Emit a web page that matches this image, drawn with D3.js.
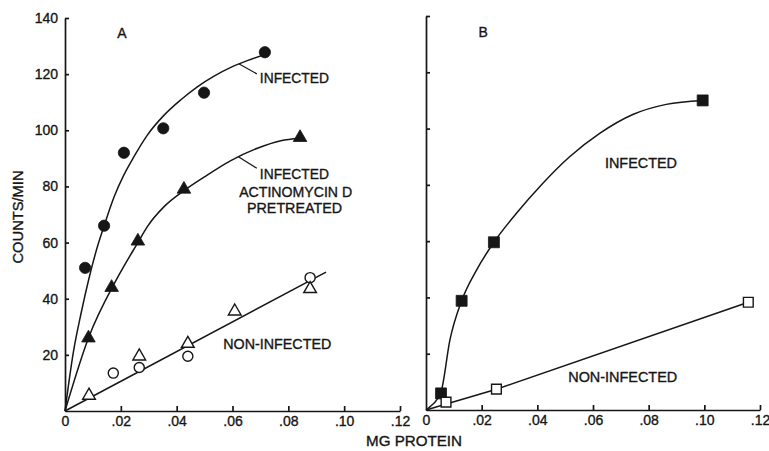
<!DOCTYPE html>
<html>
<head>
<meta charset="utf-8">
<script src="https://cdn.jsdelivr.net/npm/d3@7"></script>
<style>
body { margin: 0; background: #fff; }
svg text { font-family: "Liberation Sans", Arial, sans-serif; fill: #161616; stroke: #161616; stroke-width: 0.35px; }
</style>
</head>
<body>
<div id="chart"></div>
<script>
// axis ticks (both panels share them)
var xTicks = [0, .02, .04, .06, .08, .10, .12];
var xTickLabels = ["0", ".02", ".04", ".06", ".08", ".10", ".12"];
var yTicks = [20, 40, 60, 80, 100, 120, 140];
var yTickLabels = ["20", "40", "60", "80", "100", "120", "140"];

// panel A - measured points (mg protein, counts/min)
var infectedA = [[.0072, 51], [.014, 66], [.0211, 92], [.0352, 100.7], [.0498, 113.4], [.0716, 127.8]];
var actinoA = [[.0084, 26], [.0167, 44], [.0261, 60.5], [.0426, 79], [.0842, 97.4]];
var nonInfCirclesA = [[.0173, 13.5], [.0266, 15.5], [.044, 19.5], [.0878, 47.5]];
var nonInfTrianglesA = [[.0086, 5.5], [.0266, 19.5], [.044, 24], [.0608, 35.5], [.0878, 43.5]];

// panel A - hand drawn curves
var infectedCurveA = [[0, 0], [.003, 21], [.0058, 35], [.0086, 47.3], [.0116, 58.5], [.014, 65.9],
    [.0176, 76.3], [.0211, 84.1], [.0247, 90.6], [.0295, 98.3], [.0355, 105.4], [.0414, 110.8],
    [.0474, 115.5], [.0534, 119.3], [.0594, 122.4], [.0653, 124.8], [.0716, 127]];
var actinoCurveA = [[0, 0], [.0084, 26], [.0187, 47.3], [.0261, 60], [.0295, 65.7], [.0355, 72.8],
    [.0426, 78.5], [.0498, 83.3], [.0594, 89.2], [.0689, 93.6], [.0773, 96.3], [.0842, 97.2]];
var nonInfLineA = [[0, 0], [.0935, 49.5]];

// panel B
var infectedB = [[.0054, 5.9], [.0128, 38.8], [.0244, 59.6], [.0994, 110]];
var nonInfB = [[.0072, 2.8], [.0253, 7.4], [.1158, 38.3]];
var infectedCurveB = [[0, 0], [.0015, 1.2], [.0054, 6.5], [.0086, 24.9], [.0128, 38.8], [.0182, 49.8],
    [.0244, 59.6], [.0325, 69.9], [.042, 80.6], [.0516, 90], [.0624, 98.3], [.0743, 105], [.0863, 108.6], [.0994, 110]];
var nonInfLineB = [[0, 0], [.0253, 7.4], [.1158, 38.3]];

var width = 769, height = 451;

var svg = d3.select("#chart").append("svg")
    .attr("width", width)
    .attr("height", height);

var makePanel = function(x0, x1, yBottom, yTop, showYLabels) {
    var x = d3.scaleLinear().domain([0, .12]).range([x0, x1]);
    var y = d3.scaleLinear().domain([0, 140]).range([yBottom, yTop]);

    var xAxis = svg.append("g")
        .attr("transform", "translate(0," + yBottom + ")")
        .call(d3.axisBottom(x)
            .tickValues(xTicks)
            .tickFormat(function(d, i) { return xTickLabels[i]; })
            .tickSizeInner(-5)
            .tickSizeOuter(0)
            .tickPadding(5));

    var yAxis = svg.append("g")
        .attr("transform", "translate(" + x0 + ",0)")
        .call(d3.axisLeft(y)
            .tickValues(yTicks)
            .tickFormat(function(d, i) { return showYLabels ? yTickLabels[i] : ""; })
            .tickSizeInner(-4)
            .tickSizeOuter(0)
            .tickPadding(7));

    [xAxis, yAxis].forEach(function(a) {
        a.selectAll("path, line").attr("stroke", "#161616").attr("stroke-width", 1.7);
        a.selectAll("text").attr("font-size", 14).attr("fill", "#161616")
            .style("font-family", "'Liberation Sans', Arial, sans-serif");
    });
    // origin tick is drawn by the y axis
    xAxis.selectAll(".tick").filter(function(d) { return d === 0; }).select("line").remove();

    return {x: x, y: y};
};

var drawLine = function(p, pts, curve) {
    svg.append("path")
        .datum(pts)
        .attr("fill", "none")
        .attr("stroke", "#161616")
        .attr("stroke-width", 1.5)
        .attr("d", d3.line()
            .x(function(d) { return p.x(d[0]); })
            .y(function(d) { return p.y(d[1]); })
            .curve(curve));
};

var drawMarks = function(p, pts, type, size, filled) {
    svg.append("g").selectAll("path")
        .data(pts)
        .enter().append("path")
        .attr("transform", function(d) { return "translate(" + p.x(d[0]) + "," + p.y(d[1]) + ")"; })
        .attr("d", d3.symbol().type(type).size(size))
        .attr("fill", filled ? "#161616" : "#fff")
        .attr("stroke", "#161616")
        .attr("stroke-width", filled ? 0.8 : 1.4);
};

var label = function(p, txt, vx, vy, len, anchor) {
    var t = svg.append("text")
        .attr("x", p.x(vx))
        .attr("y", p.y(vy) + 5)
        .attr("font-size", 14)
        .attr("text-anchor", anchor || "start")
        .text(txt);
    if (len) t.attr("textLength", len).attr("lengthAdjust", "spacingAndGlyphs");
};

var leader = function(p, a, b) {
    svg.append("line")
        .attr("x1", p.x(a[0])).attr("y1", p.y(a[1]))
        .attr("x2", p.x(b[0])).attr("y2", p.y(b[1]))
        .attr("stroke", "#161616")
        .attr("stroke-width", 1.2);
};

// ---- panel A
var pa = makePanel(65, 400, 411, 18, true);

drawLine(pa, infectedCurveA, d3.curveMonotoneX);
drawLine(pa, actinoCurveA, d3.curveMonotoneX);
drawLine(pa, nonInfLineA, d3.curveLinear);

drawMarks(pa, infectedA, d3.symbolCircle, 100, true);
drawMarks(pa, actinoA, d3.symbolTriangle, 80, true);
drawMarks(pa, nonInfCirclesA, d3.symbolCircle, 80, false);
drawMarks(pa, nonInfTrianglesA, d3.symbolTriangle, 70, false);

label(pa, "A", .0204, 134.7, null, "middle");
leader(pa, [.0624, 123.6], [.0687, 120.1]);
label(pa, "INFECTED", .0698, 118.6, 69);
leader(pa, [.0621, 90.6], [.0687, 86.5]);
label(pa, "INFECTED", .0698, 84.4, 69);
label(pa, "ACTINOMYCIN D", .0624, 78.1, 113);
label(pa, "PRETREATED", .0652, 72.2, 95);
label(pa, "NON-INFECTED", .0567, 23.8, 108);

// ---- panel B
var pb = makePanel(426, 760, 410, 16, false);

drawLine(pb, infectedCurveB, d3.curveMonotoneX);
drawLine(pb, nonInfLineB, d3.curveLinear);

drawMarks(pb, infectedB, d3.symbolSquare, 120, true);
drawMarks(pb, nonInfB, d3.symbolSquare, 95, false);

label(pb, "B", .0205, 134.3, null, "middle");
label(pb, "INFECTED", .0643, 87.7, 72);
label(pb, "NON-INFECTED", .0511, 11.8, 109);

// ---- axis titles
svg.append("text")
    .attr("transform", "translate(23,217) rotate(-90)")
    .attr("font-size", 14)
    .attr("text-anchor", "middle")
    .attr("textLength", 93)
    .attr("lengthAdjust", "spacingAndGlyphs")
    .text("COUNTS/MIN");

svg.append("text")
    .attr("x", 414)
    .attr("y", 446)
    .attr("font-size", 14)
    .attr("text-anchor", "middle")
    .attr("textLength", 96)
    .attr("lengthAdjust", "spacingAndGlyphs")
    .text("MG PROTEIN");
</script>
</body>
</html>
